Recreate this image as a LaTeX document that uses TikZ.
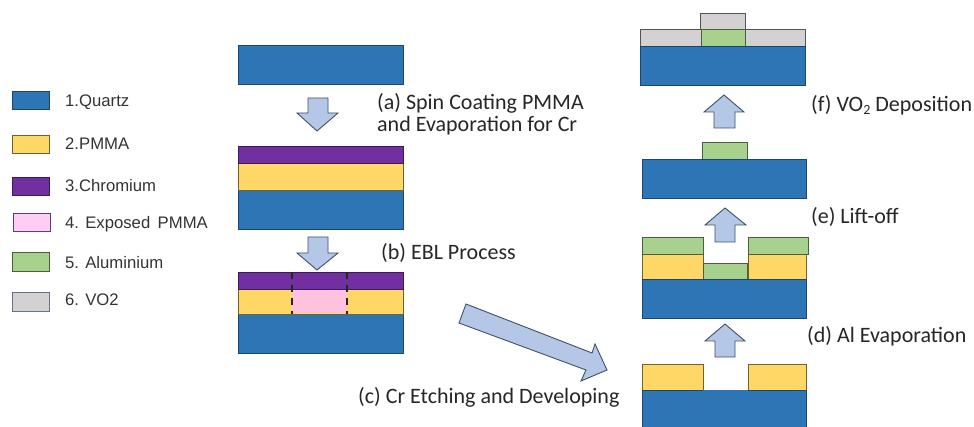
\documentclass[tikz,border=0pt]{standalone}
\usepackage{fontspec}
\setmainfont{Carlito}
\newfontfamily\legendfont{Liberation Sans}
\definecolor{quartz}{HTML}{2E75B6}
\definecolor{pmma}{HTML}{FFD766}
\definecolor{chrom}{HTML}{7030A0}
\definecolor{expo}{HTML}{FFC2DE}
\definecolor{expolegend}{HTML}{FFCCF5}
\definecolor{alum}{HTML}{A9D18E}
\definecolor{vo}{HTML}{D3D1D1}
\definecolor{arrowfill}{HTML}{B4C7E7}
\definecolor{edge}{HTML}{3F5068}
\tikzset{
  layer/.style={draw=edge!85!black,line width=0.9pt},
  quartzl/.style={layer,fill=quartz,draw=quartz!60!black},
  pmmal/.style={layer,fill=pmma,draw=pmma!45!black},
  chroml/.style={layer,fill=chrom,draw=chrom!55!black},
  expol/.style={fill=expo},
  aluml/.style={layer,fill=alum,draw=alum!45!black},
  vol/.style={layer,fill=vo,draw=vo!40!black},
  blockarrow/.style={draw=edge,line width=0.9pt,fill=arrowfill,line join=miter},
  legendbox/.style={line width=0.8pt},
  legendtext/.style={anchor=base west,inner sep=0pt,font=\legendfont\fontsize{16.7}{18}\selectfont,text=black!80},
  steptext/.style={anchor=base west,inner sep=0pt,font=\fontsize{22}{24}\selectfont,text=black!85},
  cutline/.style={draw=black!85,line width=2.2pt,dash pattern=on 7pt off 6pt}
}
\begin{document}
\begin{tikzpicture}[x=1pt,y=-1pt]
\useasboundingbox (0,0) rectangle (974,427);
% legend
\draw[quartzl,legendbox] (12,91) rectangle (49,109);
\draw[pmmal,legendbox] (12,135) rectangle (49,153);
\draw[chroml,legendbox] (12,177) rectangle (49,195);
\draw[legendbox,fill=expolegend,draw=edge!70!chrom] (13,213) rectangle (50,231);
\draw[aluml,legendbox] (12,252) rectangle (49,271);
\draw[vol,legendbox,draw=edge!80] (12,292) rectangle (49,311);
\node[legendtext] (l1) at (65,107) {1.Quartz};
\node[legendtext] (l2) at (65,150) {2.PMMA};
\node[legendtext] (l3) at (65,192) {3.Chromium};
\node[legendtext] (l4) at (65,229) {4. Exposed\, PMMA};
\node[legendtext] (l5) at (65,269) {5. Aluminium};
\node[legendtext] (l6) at (65,306) {6. VO2};
% left column
\draw[quartzl] (238,45) rectangle (403,84.5);
\draw[blockarrow] (308,98) -- (328,98) -- (328,113) -- (338,113) -- (317,131) -- (297,113) -- (308,113) -- cycle;
\draw[quartzl] (238,190) rectangle (403,229);
\draw[pmmal] (238,163) rectangle (403,190);
\draw[chroml] (238,146) rectangle (403,163);
\draw[blockarrow] (308,237) -- (328,237) -- (328,253) -- (338,253) -- (317,270) -- (297,253) -- (308,253) -- cycle;
\draw[quartzl] (238,314) rectangle (403,353);
\draw[pmmal] (238,289) rectangle (403,314);
\draw[chroml] (238,272) rectangle (403,289);
\fill[expol] (292,289.6) rectangle (347,313.4);
\draw[cutline] (292,272) -- (292,314);
\draw[cutline] (347,272) -- (347,314);
% big arrow
\draw[blockarrow] (466,304) -- (592,353) -- (595,344) -- (607,370) -- (581,381) -- (586,370) -- (459,323) -- cycle;
% right column, top
\draw[vol] (700,13) rectangle (745,29);
\draw[vol] (640,29) rectangle (805,46);
\draw[aluml] (701,29) rectangle (745,46);
\draw[quartzl] (640,46) rectangle (805,85);
\draw[blockarrow] (724,95) -- (744,112) -- (735,112) -- (735,128) -- (714,128) -- (714,112) -- (704,112) -- cycle;
\draw[aluml] (702,142) rectangle (747,159);
\draw[quartzl] (642,159) rectangle (806,198);
\draw[blockarrow] (725,208) -- (746,225) -- (735,225) -- (735,242) -- (715,242) -- (715,225) -- (705,225) -- cycle;
\draw[pmmal] (642,254) rectangle (703,279);
\draw[pmmal] (748,254) rectangle (806,279);
\draw[aluml] (642,237) rectangle (703,254);
\draw[aluml] (748,237) rectangle (808,254);
\draw[aluml] (703,263) rectangle (747,279);
\draw[quartzl] (642,279) rectangle (806,318);
\draw[blockarrow] (725,324) -- (745,341) -- (735,341) -- (735,357) -- (715,357) -- (715,341) -- (705,341) -- cycle;
\draw[pmmal] (642,364) rectangle (703,390);
\draw[pmmal] (748,364) rectangle (806,390);
\fill[quartz] (642,390) rectangle (806,427);
\draw[quartz!60!black,line width=0.9pt] (642,427) -- (642,390) -- (703,390);
\draw[quartz!60!black,line width=0.9pt] (748,390) -- (806,390) -- (806,427);
% labels
\node[steptext] (ta1) at (377,110) {(a) Spin Coating PMMA};
\node[steptext] (ta2) at (377,132) {and Evaporation for Cr};
\node[steptext] (tb) at (381,260) {(b) EBL Process};
\node[steptext] (tc) at (358,403) {(c) Cr Etching and Developing};
\node[steptext] (td) at (807,343) {(d) Al Evaporation};
\node[steptext] (te) at (811,224) {(e) Lift-off};
\node[steptext] (tf) at (811,112) {(f) VO\raisebox{-0.25ex}{\fontsize{14}{16}\selectfont 2} Deposition};
\end{tikzpicture}
\end{document}
